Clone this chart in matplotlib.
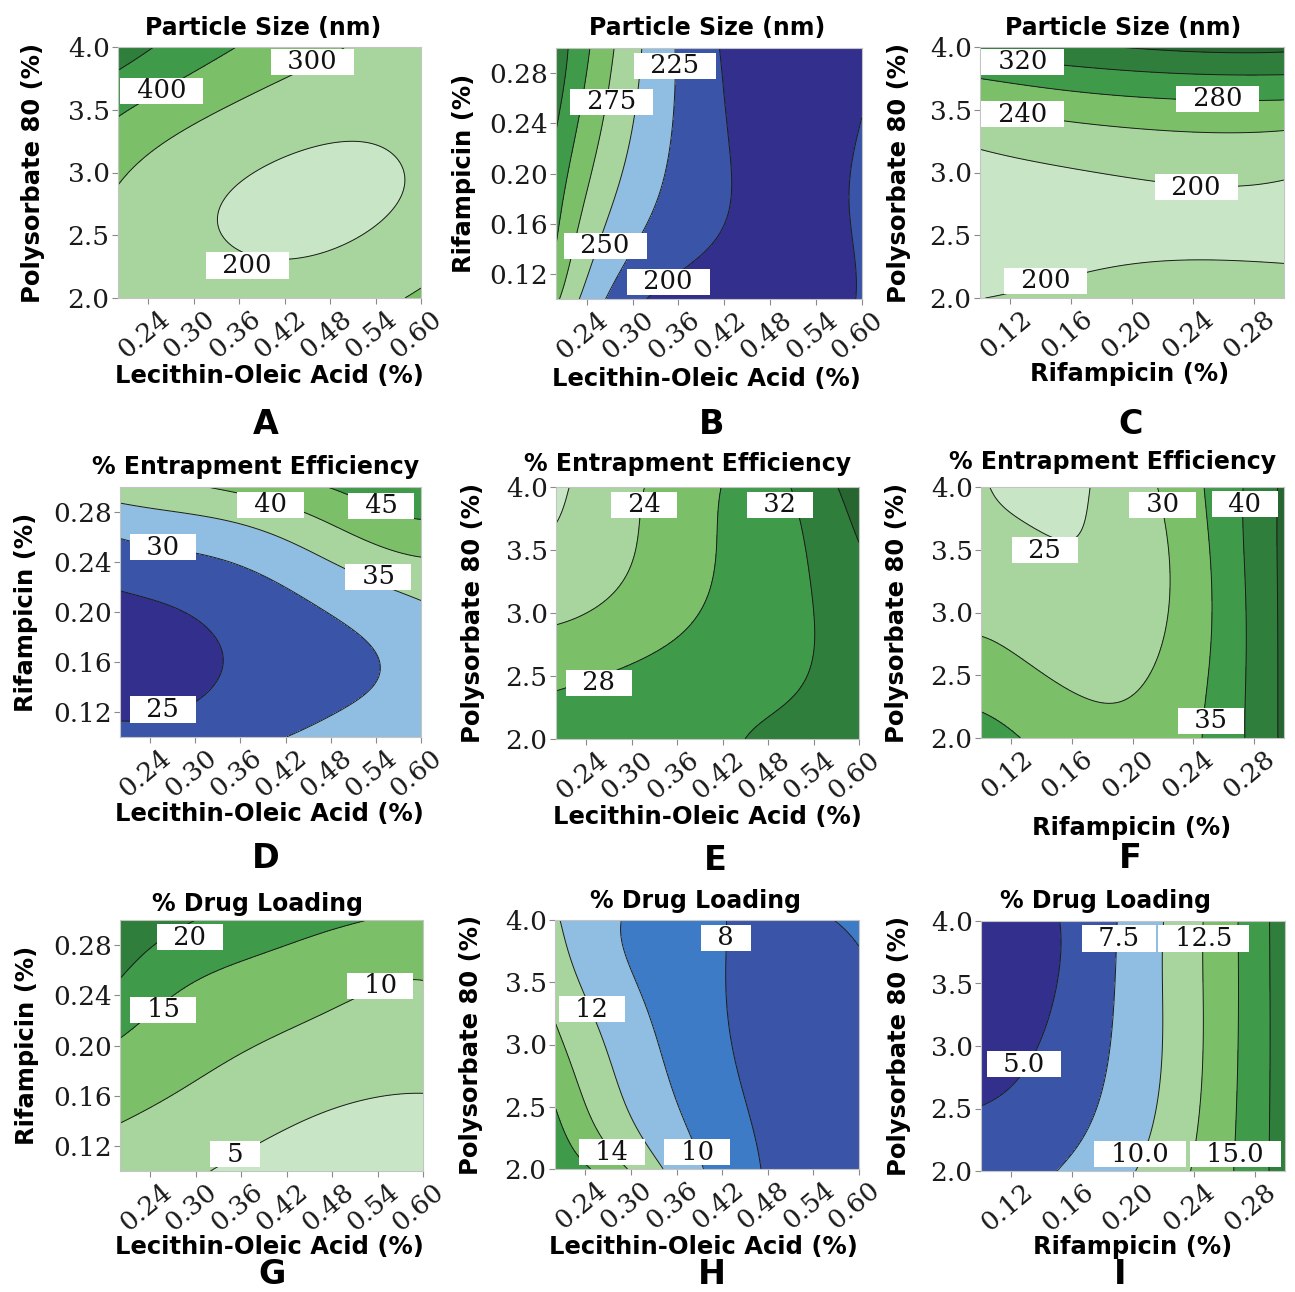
import numpy as np
import matplotlib
matplotlib.use("Agg")
import matplotlib.pyplot as plt
from matplotlib.ticker import FormatStrFormatter
from matplotlib.transforms import ScaledTranslation

W, H = 1295, 1292

lecithin = [0.20, 0.30, 0.40, 0.50, 0.60]
rifampicin = [0.10, 0.15, 0.20, 0.25, 0.30]
polysorbate = [2.0, 2.5, 3.0, 3.5, 4.0]

lecithin_ticks = [0.24, 0.30, 0.36, 0.42, 0.48, 0.54, 0.60]
rifampicin_ticks = [0.12, 0.16, 0.20, 0.24, 0.28]
polysorbate_ticks = [2.0, 2.5, 3.0, 3.5, 4.0]

# responses: one row per y level (bottom to top), one column per x level
size_lec_pol = [[289, 245, 235, 258, 315],
                [274, 214, 187, 194, 235],
                [313, 236, 194, 184, 209],
                [414, 326, 262, 228, 235],
                [554, 448, 366, 300, 262]]
size_lec_rif = [[280, 207, 183, 182, 203],
                [302, 229, 202, 190, 205],
                [315, 243, 207, 190, 206],
                [330, 252, 207, 184, 199],
                [340, 258, 205, 181, 188]]
size_rif_pol = [[199, 211, 220, 224, 216],
                [170, 184, 191, 193, 192],
                [186, 196, 203, 207, 204],
                [236, 252, 262, 267, 266],
                [345, 352, 362, 370, 369]]
ee_lec_rif = [[26.2, 27.2, 29.5, 31.6, 32.5],
              [23.0, 24.2, 26.7, 29.0, 31.5],
              [23.8, 25.3, 27.8, 30.8, 34.0],
              [28.7, 30.4, 33.0, 37.5, 41.0],
              [37.7, 39.6, 42.5, 45.8, 48.5]]
ee_lec_pol = [[29.0, 29.8, 31.0, 33.2, 35.2],
              [27.2, 28.6, 30.0, 31.4, 34.0],
              [23.3, 25.5, 28.3, 30.9, 34.0],
              [20.6, 23.8, 27.6, 30.9, 35.7],
              [19.4, 23.3, 27.3, 31.5, 38.5]]
ee_rif_pol = [[37.0, 33.0, 31.3, 35.6, 46.0],
              [32.4, 29.6, 29.3, 35.0, 46.0],
              [28.8, 26.8, 27.5, 34.5, 46.0],
              [26.6, 25.2, 27.0, 34.8, 46.0],
              [25.6, 23.8, 27.8, 35.5, 46.0]]
dl_lec_rif = [[7.2, 5.4, 3.4, 2.0, 1.8],
              [10.8, 8.6, 6.4, 4.8, 4.3],
              [14.5, 11.7, 9.6, 7.9, 7.2],
              [19.6, 14.9, 13.0, 11.0, 9.9],
              [26.5, 20.0, 17.2, 15.5, 13.2]]
dl_lec_pol = [[17.5, 13.8, 9.85, 7.5, 6.3],
              [16.0, 11.8, 9.1, 7.2, 6.45],
              [14.5, 10.95, 8.6, 7.05, 6.8],
              [13.2, 10.15, 8.35, 7.2, 7.45],
              [12.2, 9.75, 8.25, 7.65, 8.5]]
dl_rif_pol = [[6.3, 7.5, 9.9, 13.5, 18.8],
              [5.1, 6.4, 8.9, 13.1, 18.7],
              [3.0, 5.6, 8.5, 12.9, 18.7],
              [2.6, 5.0, 8.4, 12.9, 18.8],
              [2.4, 4.9, 8.3, 12.9, 18.8]]

# contour levels
size_lp_levels = [200, 300, 400, 500]
size_lr_levels = [200, 225, 250, 275, 300, 325]
size_rp_levels = [200, 240, 280, 320, 360]
ee_lr_levels = [25, 30, 35, 40, 45]
ee_lp_levels = [20, 24, 28, 32, 36]
ee_rp_levels = [25, 30, 35, 40, 45]
dl_lr_levels = [5, 10, 15, 20]
dl_lp_levels = [8, 10, 12, 14, 16]
dl_rp_levels = [5.0, 7.5, 10.0, 12.5, 15.0, 17.5]

G1, G2, G3, G4, G5, G6 = "#c8e6c6", "#a8d59d", "#7bbf68", "#3f9b49", "#2f7e3b", "#276631"
LB, MB, BL, NV = "#8fbee2", "#3e7bc6", "#3a54a8", "#32308c"

TITLE_PS = "Particle Size (nm)"
TITLE_EE = "% Entrapment Efficiency"
TITLE_DL = "% Drug Loading"
LAB_LEC = "Lecithin-Oleic Acid (%)"
LAB_RIF = "Rifampicin (%)"
LAB_POL = "Polysorbate 80 (%)"

panels = [
    dict(letter="A", title=TITLE_PS, x=lecithin, y=polysorbate, z=size_lec_pol,
         levels=size_lp_levels, colors=[G1, G2, G3, G4, G5], fmt="%d",
         labels=[(400, 0.2576, 3.653), (300, 0.4566, 3.883), (200, 0.3705, 2.259)],
         box=(118, 47, 421, 298), ttl=(263, 28), xl=(269, 376), yl=33, let=(266, 425)),
    dict(letter="B", title=TITLE_PS, x=lecithin, y=rifampicin, z=size_lec_rif,
         levels=size_lr_levels, colors=[NV, BL, LB, G2, G3, G4, G5], fmt="%d",
         labels=[(225, 0.3556, 0.2858), (275, 0.2728, 0.2572), (250, 0.2644, 0.1424),
                 (200, 0.3468, 0.1138)],
         box=(556, 48, 862, 299), ttl=(707, 28), xl=(706, 379), yl=464, let=(712, 425)),
    dict(letter="C", title=TITLE_PS, x=rifampicin, y=polysorbate, z=size_rif_pol,
         levels=size_rp_levels, colors=[G1, G2, G3, G4, G5, G6], fmt="%d",
         labels=[(320, 0.128, 3.883), (240, 0.128, 3.465), (280, 0.2563, 3.587),
                 (200, 0.2423, 2.884), (200, 0.1431, 2.137)],
         box=(980, 47, 1284, 298), ttl=(1123, 28), xl=(1130, 374), yl=899, let=(1131, 425)),
    dict(letter="D", title=TITLE_EE, x=lecithin, y=rifampicin, z=ee_lec_rif,
         levels=ee_lr_levels, colors=[NV, BL, LB, G2, G3, G4], fmt="%d",
         labels=[(40, 0.40, 0.2856), (45, 0.5472, 0.285), (30, 0.2571, 0.2518),
                 (35, 0.5433, 0.2282), (25, 0.2571, 0.122)],
         box=(120, 487, 421, 737), ttl=(256, 467), xl=(269, 814), yl=26, let=(266, 858)),
    dict(letter="E", title=TITLE_EE, x=lecithin, y=polysorbate, z=ee_lec_pol,
         levels=ee_lp_levels, colors=[G1, G2, G3, G4, G5, G6], fmt="%d",
         labels=[(24, 0.3166, 3.861), (32, 0.4953, 3.861), (28, 0.2564, 2.448)],
         box=(556, 487, 859, 739), ttl=(688, 464), xl=(707, 817), yl=473, let=(715, 860)),
    dict(letter="F", title=TITLE_EE, x=rifampicin, y=polysorbate, z=ee_rif_pol,
         levels=ee_rp_levels, colors=[G1, G2, G3, G4, G5, G6], fmt="%d",
         labels=[(30, 0.2198, 3.857), (40, 0.2743, 3.863), (25, 0.1422, 3.498),
                 (35, 0.2517, 2.137)],
         box=(981, 487, 1284, 738), ttl=(1113, 462), xl=(1132, 828), yl=897, let=(1130, 858)),
    dict(letter="G", title=TITLE_DL, x=lecithin, y=rifampicin, z=dl_lec_rif,
         levels=dl_lr_levels, colors=[G1, G2, G3, G4, G5], fmt="%d",
         labels=[(20, 0.2925, 0.2861), (15, 0.2572, 0.2283), (10, 0.5435, 0.2476),
                 (5, 0.3519, 0.1134)],
         box=(120, 920, 423, 1171), ttl=(257, 904), xl=(269, 1247), yl=27, let=(272, 1274)),
    dict(letter="H", title=TITLE_DL, x=lecithin, y=polysorbate, z=dl_lec_pol,
         levels=dl_lp_levels, colors=[BL, MB, LB, G2, G3, G4], fmt="%d",
         labels=[(8, 0.4247, 3.859), (12, 0.2483, 3.284), (14, 0.275, 2.133),
                 (10, 0.3871, 2.133)],
         box=(555, 920, 859, 1169), ttl=(695, 901), xl=(703, 1247), yl=471, let=(712, 1275)),
    dict(letter="I", title=TITLE_DL, x=rifampicin, y=polysorbate, z=dl_rif_pol,
         levels=dl_rp_levels, colors=[NV, BL, LB, G2, G3, G4, G5], fmt="%.1f",
         labels=[(7.5, 0.1907, 3.86), (12.5, 0.2463, 3.86), (5.0, 0.1284, 2.854),
                 (10.0, 0.2046, 2.134), (15.0, 0.2673, 2.134)],
         box=(981, 921, 1285, 1171), ttl=(1106, 901), xl=(1133, 1247), yl=899, let=(1120, 1275)),
]

SERIF = "DejaVu Serif"
SANS = "DejaVu Sans"


def basis(nodes, t):
    # polynomial (Lagrange) basis through the read-off nodes
    nodes = np.asarray(nodes, float)
    m = np.ones((len(t), len(nodes)))
    for i, ni in enumerate(nodes):
        for j, nj in enumerate(nodes):
            if i != j:
                m[:, i] *= (t - nj) / (ni - nj)
    return m


def surface(xs, ys, z):
    tx = np.linspace(xs[0], xs[-1], 241)
    ty = np.linspace(ys[0], ys[-1], 241)
    zf = basis(ys, ty) @ np.asarray(z, float) @ basis(xs, tx).T
    return tx, ty, zf


fig = plt.figure(figsize=(W / 100, H / 100), dpi=100)
fig.patch.set_facecolor("white")

for p in panels:
    l, t, r, b = p["box"]
    ax = fig.add_axes([l / W, 1 - b / H, (r - l) / W, (b - t) / H])
    xs, ys = p["x"], p["y"]
    tx, ty, zf = surface(xs, ys, p["z"])
    lv = p["levels"]
    bounds = [min(zf.min(), lv[0]) - 1] + lv + [max(zf.max(), lv[-1]) + 1]
    ax.contourf(tx, ty, zf, levels=bounds, colors=p["colors"])
    ax.contour(tx, ty, zf, levels=lv, colors="#1c1c1c", linewidths=0.7)

    for val, lx, ly in p["labels"]:
        ax.text(lx, ly, "  " + (p["fmt"] % val) + "  ", fontsize=18.5, family=SERIF,
                ha="center", va="center", color="#111111", zorder=5,
                bbox=dict(boxstyle="square,pad=0.02", fc="white", ec="none"))

    ax.set_xlim(xs[0], xs[-1])
    ax.set_ylim(ys[0], ys[-1])
    if xs is lecithin:
        ax.set_xticks(lecithin_ticks)
        xlabel = LAB_LEC
    else:
        ax.set_xticks(rifampicin_ticks)
        xlabel = LAB_RIF
    ax.xaxis.set_major_formatter(FormatStrFormatter("%.2f"))
    if ys is polysorbate:
        ax.set_yticks(polysorbate_ticks)
        ax.yaxis.set_major_formatter(FormatStrFormatter("%.1f"))
        ylabel = LAB_POL
    else:
        ax.set_yticks(rifampicin_ticks)
        ax.yaxis.set_major_formatter(FormatStrFormatter("%.2f"))
        ylabel = LAB_RIF

    ax.tick_params(direction="out", length=4, width=0.8, color="#8a8a8a",
                   labelsize=19, labelcolor="#1a1a1a", pad=2)
    shift = ScaledTranslation(7 / 72, 0, fig.dpi_scale_trans)
    for lab in ax.get_xticklabels():
        lab.set_family(SERIF)
        lab.set_rotation(40)
        lab.set_ha("right")
        lab.set_va("top")
        lab.set_rotation_mode("anchor")
        lab.set_transform(lab.get_transform() + shift)
    for lab in ax.get_yticklabels():
        lab.set_family(SERIF)
    for s in ax.spines.values():
        s.set_color("#c4c4c4")
        s.set_linewidth(0.8)

    ax.set_xlabel(xlabel, fontsize=17.5, fontweight="bold", family=SANS)
    ax.xaxis.label.set_va("center")
    ax.xaxis.set_label_coords((p["xl"][0] - l) / (r - l), (b - p["xl"][1]) / (b - t))
    ax.set_ylabel(ylabel, fontsize=17.5, fontweight="bold", family=SANS)
    ax.yaxis.label.set_va("center")
    ax.yaxis.set_label_coords((p["yl"] - l) / (r - l), 0.5)

    ax.set_title(p["title"], fontsize=17, fontweight="bold", family=SANS,
                 y=(b - p["ttl"][1]) / (b - t), pad=0, va="center")
    ax.title.set_x((p["ttl"][0] - l) / (r - l))

    fig.text(p["let"][0] / W, 1 - p["let"][1] / H, p["letter"], fontsize=24,
             fontweight="bold", family=SANS, ha="center", va="center")

fig.savefig("out.png", dpi=100, facecolor="white")
